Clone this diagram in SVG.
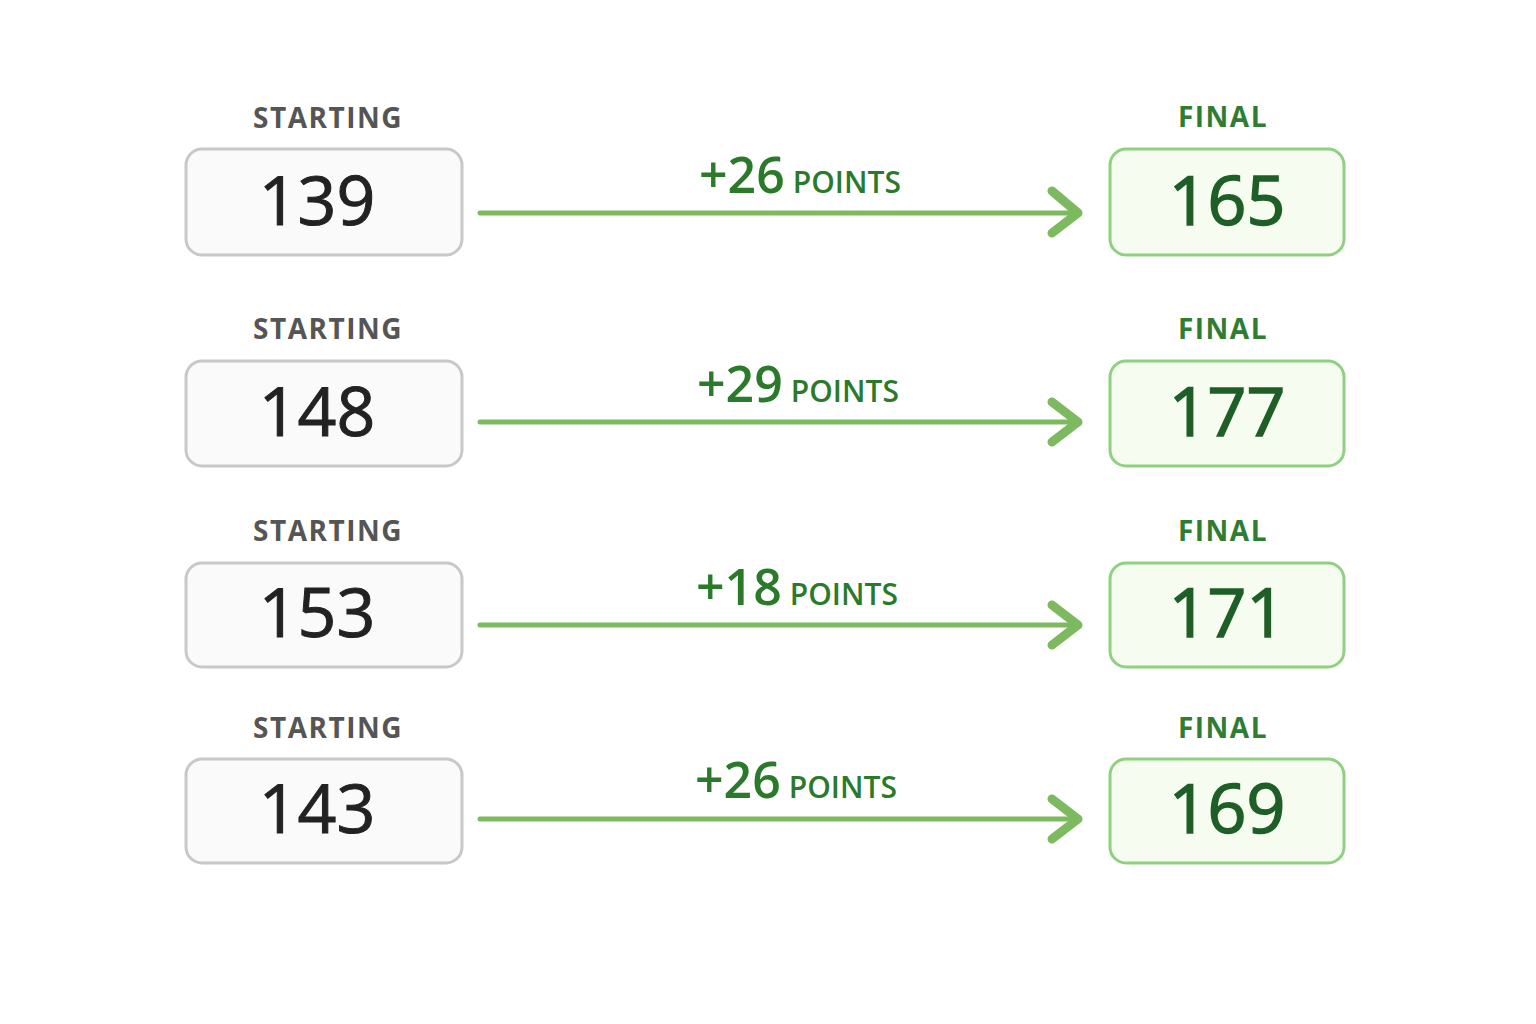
<svg xmlns="http://www.w3.org/2000/svg" width="1536" height="1024" viewBox="0 0 1536 1024">
<style>
.bg{fill:#fff}
.sbox{fill:#fafafa;stroke:#c8c8c8;stroke-width:3}
.fbox{fill:#f6fcef;stroke:#8fd081;stroke-width:3}
.lab{font-family:"Open Sans","Liberation Sans",sans-serif;font-weight:700;font-size:28px;letter-spacing:1.5px;text-anchor:middle}
.sl{fill:#555}
.fl{fill:#2e7d32}
.num{font-family:"Open Sans","Liberation Sans",sans-serif;font-size:68px;font-weight:500;text-anchor:middle}
.sn{fill:#222;stroke:#222;stroke-width:1}
.fn{fill:#1f5f27;stroke:#1f5f27;stroke-width:1.5}
.delta{font-family:"Open Sans","Liberation Sans",sans-serif;font-weight:600;fill:#2b7a2b;text-anchor:middle}
.line{stroke:#7cb95f;stroke-width:5;fill:none;stroke-linecap:round;stroke-linejoin:round}
.head{stroke:#7cb95f;stroke-width:9;fill:none;stroke-linecap:round;stroke-linejoin:round}
</style>
<rect class="bg" width="1536" height="1024"/>
<g id="row1">
<g id="start1"><text class="lab sl" x="328" y="128">STARTING</text><rect class="sbox" x="186" y="149" width="276" height="106" rx="16"/><text class="num sn" x="317" y="225">139</text></g>
<g id="final1"><text class="lab fl" x="1223" y="127">FINAL</text><rect class="fbox" x="1110" y="149" width="234" height="106" rx="16"/><text class="num fn" x="1227" y="225">165</text></g>
</g>
<g id="row2">
<g id="start2"><text class="lab sl" x="328" y="339">STARTING</text><rect class="sbox" x="186" y="361" width="276" height="105" rx="16"/><text class="num sn" x="317" y="436">148</text></g>
<g id="final2"><text class="lab fl" x="1223" y="339">FINAL</text><rect class="fbox" x="1110" y="361" width="234" height="105" rx="16"/><text class="num fn" x="1227" y="436">177</text></g>
</g>
<g id="row3">
<g id="start3"><text class="lab sl" x="328" y="541">STARTING</text><rect class="sbox" x="186" y="563" width="276" height="104" rx="16"/><text class="num sn" x="317" y="637">153</text></g>
<g id="final3"><text class="lab fl" x="1223" y="541">FINAL</text><rect class="fbox" x="1110" y="563" width="234" height="104" rx="16"/><text class="num fn" x="1227" y="637">171</text></g>
</g>
<g id="row4">
<g id="start4"><text class="lab sl" x="328" y="738">STARTING</text><rect class="sbox" x="186" y="759" width="276" height="104" rx="16"/><text class="num sn" x="317" y="833">143</text></g>
<g id="final4"><text class="lab fl" x="1223" y="738">FINAL</text><rect class="fbox" x="1110" y="759" width="234" height="104" rx="16"/><text class="num fn" x="1227" y="833">169</text></g>
</g>
<g id="connectors">
<path class="line" d="M480 213H1078"/><path class="head" d="M1052 191L1078 213L1052 233"/>
<path class="line" d="M480 422H1078"/><path class="head" d="M1052 402L1078 422L1052 442"/>
<path class="line" d="M480 625H1078"/><path class="head" d="M1052 605L1078 625L1052 645"/>
<path class="line" d="M480 819H1078"/><path class="head" d="M1052 799L1078 819L1052 839"/>
<text class="delta" x="800" y="193"><tspan font-size="50">+26</tspan><tspan font-size="30" dx="8">POINTS</tspan></text>
<text class="delta" x="798" y="402"><tspan font-size="50">+29</tspan><tspan font-size="30" dx="8">POINTS</tspan></text>
<text class="delta" x="797" y="605"><tspan font-size="50">+18</tspan><tspan font-size="30" dx="8">POINTS</tspan></text>
<text class="delta" x="796" y="798"><tspan font-size="50">+26</tspan><tspan font-size="30" dx="8">POINTS</tspan></text>
</g>
</svg>
